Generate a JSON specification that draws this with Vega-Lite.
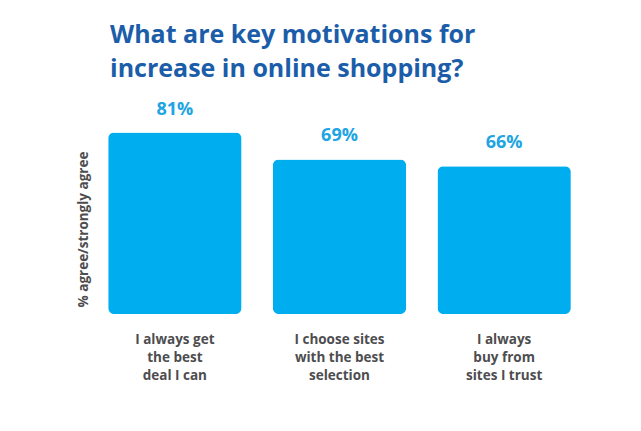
{
  "$schema": "https://vega.github.io/schema/vega-lite/v6.json",
  "width": 489,
  "height": 224,
  "autosize": {"type": "none"},
  "padding": {"top": 90, "left": 95, "right": 57, "bottom": 117},
  "background": "white",
  "config": {"view": {"stroke": null}, "font": "Open Sans"},
  "title": {
    "text": ["What are key motivations for", "increase in online shopping?"],
    "anchor": "start",
    "frame": "group",
    "dx": 15,
    "offset": 8,
    "fontSize": 25,
    "fontWeight": "bold",
    "color": "#1B5DA9",
    "lineHeight": 34
  },
  "data": {
    "values": [
      {"reason": "I always get|the best|deal I can", "pct": 0.81, "order": 1},
      {"reason": "I choose sites|with the best|selection", "pct": 0.69, "order": 2},
      {"reason": "I always|buy from|sites I trust", "pct": 0.66, "order": 3}
    ]
  },
  "encoding": {
    "x": {
      "field": "reason",
      "type": "nominal",
      "sort": {"field": "order"},
      "scale": {"paddingInner": 0.19, "paddingOuter": 0.08},
      "axis": {
        "title": null,
        "domain": false,
        "ticks": false,
        "labelAngle": 0,
        "labelPadding": 18,
        "labelExpr": "split(datum.value, '|')",
        "labelFontSize": 13.5,
        "labelFontWeight": "bold",
        "labelColor": "#4D4D4F",
        "labelLineHeight": 18,
        "labelBaseline": "top"
      }
    },
    "y": {
      "field": "pct",
      "type": "quantitative",
      "scale": {"domain": [0, 1]},
      "axis": {
        "title": "% agree/strongly agree",
        "grid": false,
        "domain": false,
        "ticks": false,
        "labels": false,
        "titleFontSize": 13.5,
        "titleFontWeight": "bold",
        "titleColor": "#4D4D4F",
        "titleX": -12,
        "titleY": 139,
        "titleAlign": "center",
        "titleBaseline": "middle"
      }
    }
  },
  "layer": [
    {"mark": {"type": "bar", "color": "#00AEEF", "cornerRadius": 6}},
    {
      "mark": {"type": "text", "dy": -18, "baseline": "alphabetic", "fontSize": 18, "fontWeight": "bold", "color": "#20A4E2"},
      "encoding": {"text": {"field": "pct", "type": "quantitative", "format": ".0%"}}
    }
  ]
}
